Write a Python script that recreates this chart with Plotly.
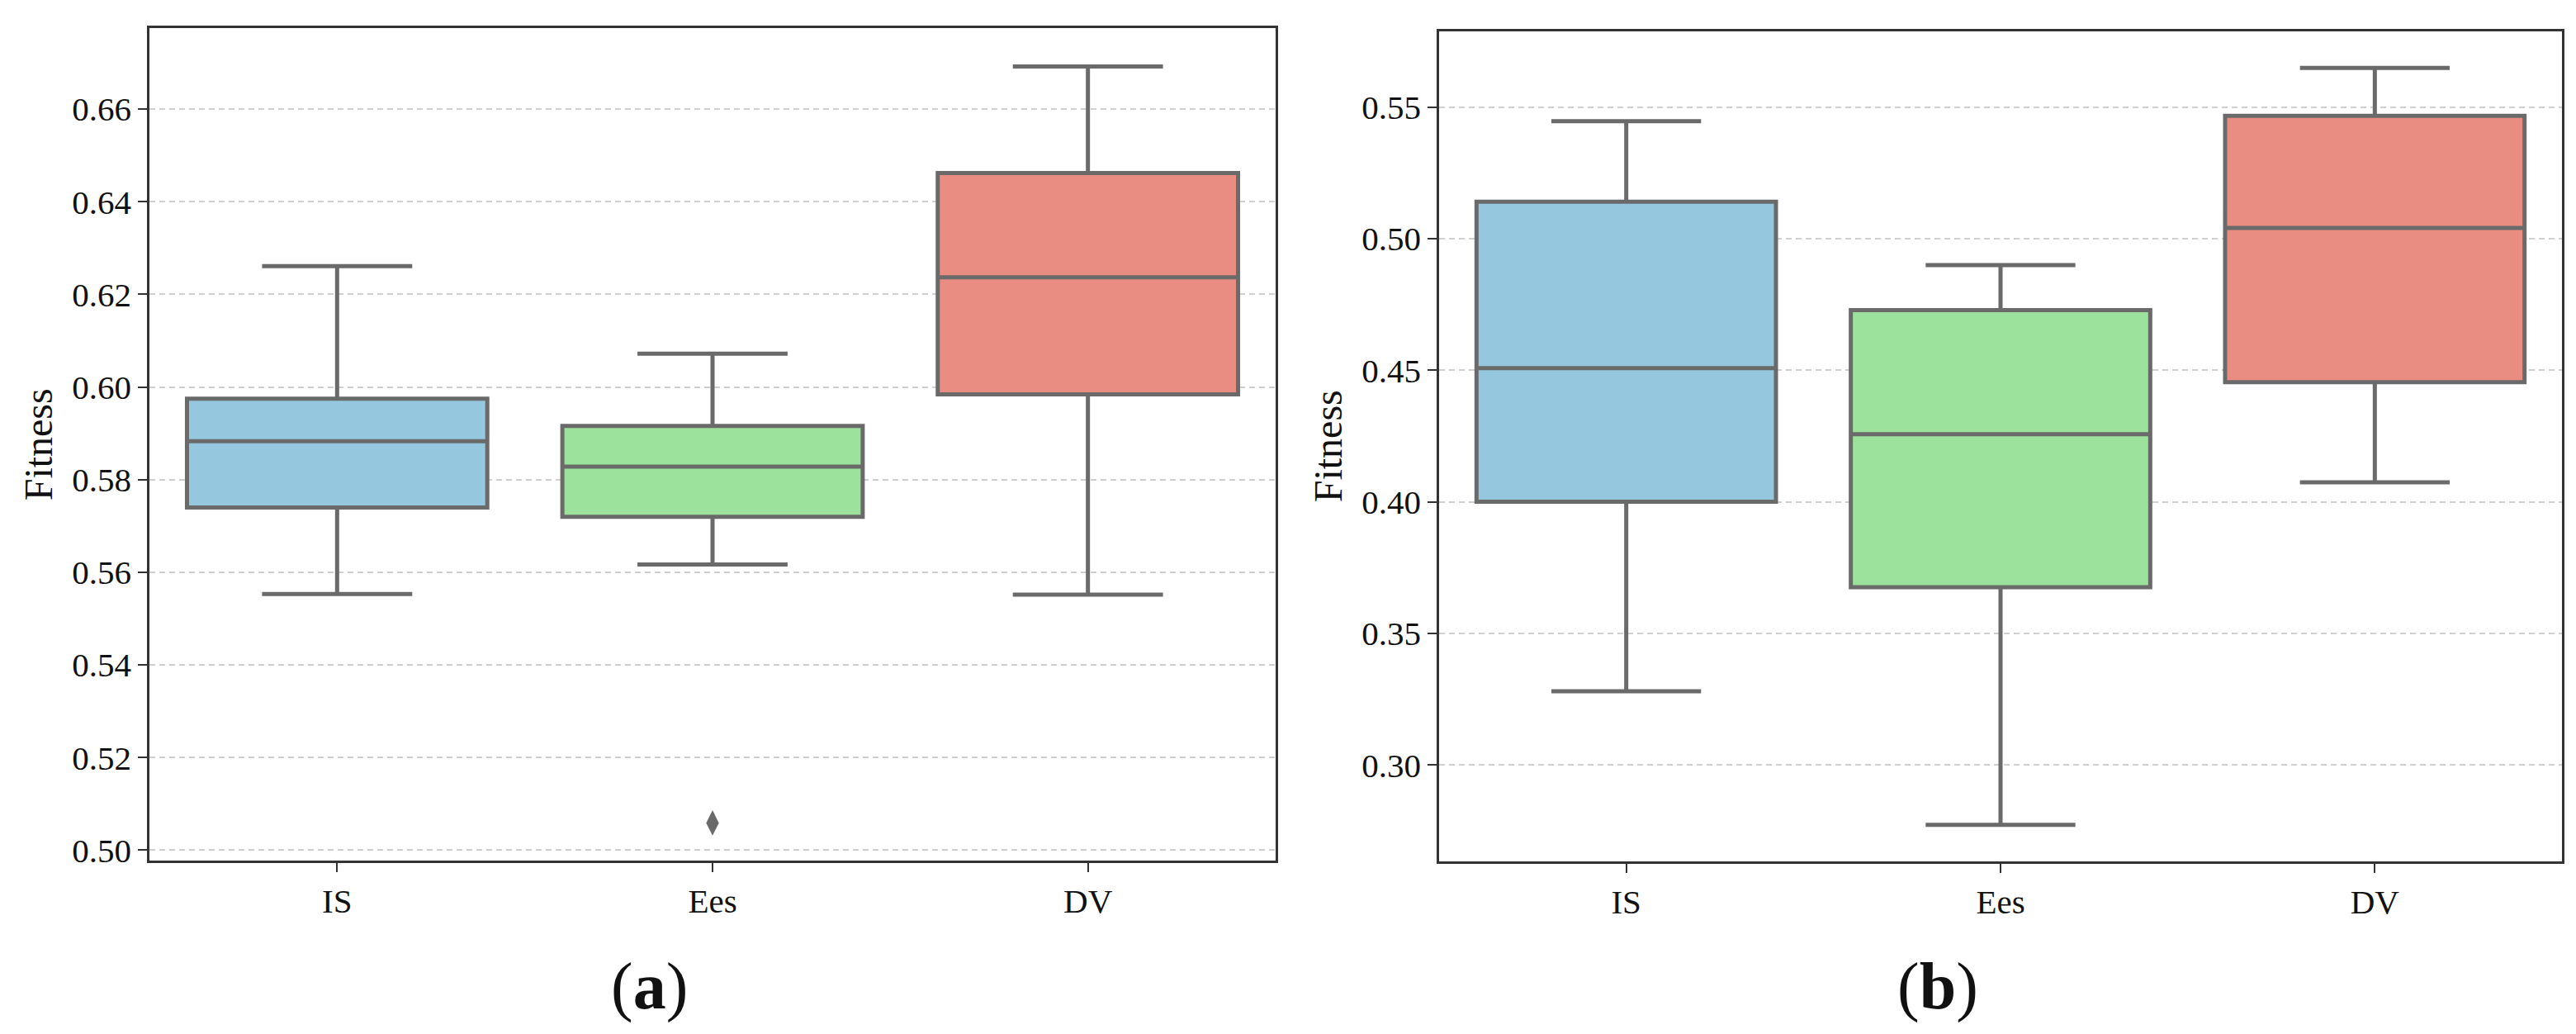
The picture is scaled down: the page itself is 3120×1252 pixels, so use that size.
import plotly.graph_objects as go

categories = ["IS", "Ees", "DV"]
colors = ["#95C8DE", "#9DE29C", "#E98D83"]

# Panel (a)
a_lower = [0.5553, 0.5617, 0.5552]
a_q1 = [0.5740, 0.5720, 0.5984]
a_median = [0.5883, 0.5828, 0.6237]
a_q3 = [0.5975, 0.5916, 0.6462]
a_upper = [0.6261, 0.6072, 0.6692]
a_outlier_cat = ["Ees"]
a_outlier_val = [0.5059]

# Panel (b)
b_lower = [0.3280, 0.2772, 0.4074]
b_q1 = [0.4000, 0.3675, 0.4454]
b_median = [0.4508, 0.4257, 0.5040]
b_q3 = [0.5140, 0.4728, 0.5466]
b_upper = [0.5446, 0.4899, 0.5648]

W, H = 3120, 1252
FONT = "Liberation Serif, Times New Roman, serif"
LINE = "#6A6A6A"

fig = go.Figure()

def add_boxes(lower, q1, med, q3, upper, xa, ya):
    for i, c in enumerate(categories):
        fig.add_trace(go.Box(
            x=[c], q1=[q1[i]], median=[med[i]], q3=[q3[i]],
            lowerfence=[lower[i]], upperfence=[upper[i]],
            fillcolor=colors[i], line=dict(color=LINE, width=5),
            width=0.8, whiskerwidth=0.5, boxpoints=False,
            showlegend=False, hoverinfo="skip", xaxis=xa, yaxis=ya,
        ))

add_boxes(a_lower, a_q1, a_median, a_q3, a_upper, "x", "y")
add_boxes(b_lower, b_q1, b_median, b_q3, b_upper, "x2", "y2")

fig.add_trace(go.Scatter(
    x=a_outlier_cat, y=a_outlier_val, mode="markers",
    marker=dict(symbol="diamond-tall", size=22, color=LINE),
    showlegend=False, hoverinfo="skip", xaxis="x", yaxis="y",
))

xcommon = dict(
    type="category", categoryorder="array", categoryarray=categories,
    range=[-0.5, 2.5], showline=True, mirror=True, linecolor="#333333",
    linewidth=2.5, ticks="outside", ticklen=11, tickwidth=2, tickcolor="#333333",
    showgrid=False, zeroline=False,
    tickfont=dict(family=FONT, size=41, color="#111111"),
)
ycommon = dict(
    showline=True, mirror=True, linecolor="#333333", linewidth=2.5,
    ticks="outside", ticklen=11, tickwidth=2, tickcolor="#333333",
    showgrid=True, gridcolor="#CFCFCF", gridwidth=2, griddash="7px,5px",
    zeroline=False, tickformat=".2f",
    tickfont=dict(family=FONT, size=41, color="#111111"),
)

fig.update_layout(
    width=W, height=H,
    margin=dict(l=0, r=0, t=0, b=0),
    paper_bgcolor="white", plot_bgcolor="white",
    boxmode="overlay",
    xaxis=dict(xcommon, domain=[173 / W, 1537 / W], anchor="y"),
    yaxis=dict(ycommon, domain=[1 - 1043 / H, 1 - 26.7 / H], anchor="x",
               range=[0.4978, 0.6774], tick0=0.50, dtick=0.02),
    xaxis2=dict(xcommon, domain=[1735 / W, 3095 / W], anchor="y2"),
    yaxis2=dict(ycommon, domain=[1 - 1044 / H, 1 - 30 / H], anchor="x2",
                range=[0.2634, 0.5788], tick0=0.30, dtick=0.05),
)

annots = [
    dict(text="Fitness", x=38 / W, y=1 - 535 / H, textangle=-90, size=48),
    dict(text="Fitness", x=1600 / W, y=1 - 537 / H, textangle=-90, size=48),
    dict(text="(<b>a</b>)", x=778 / W, y=1 - 1197 / H, textangle=0, size=80),
    dict(text="(<b>b</b>)", x=2339 / W, y=1 - 1197 / H, textangle=0, size=80),
]
for a in annots:
    fig.add_annotation(
        text=a["text"], x=a["x"], y=a["y"], xref="paper", yref="paper",
        xanchor="center", yanchor="middle", showarrow=False,
        textangle=a["textangle"],
        font=dict(family=FONT, size=a["size"], color="#111111"),
    )

fig.write_html("out.html")
